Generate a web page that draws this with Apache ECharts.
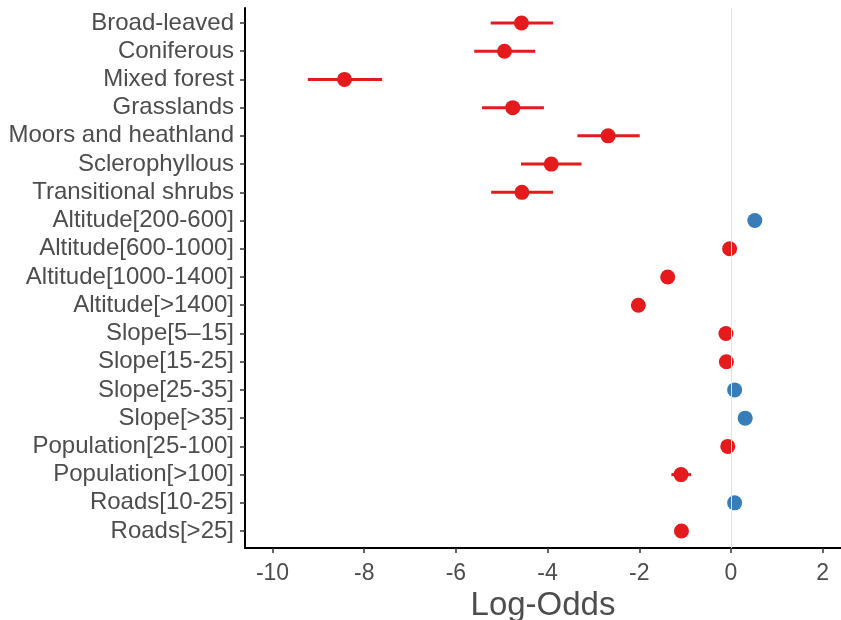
<!DOCTYPE html>
<html>
<head>
<meta charset="utf-8">
<script src="https://cdn.jsdelivr.net/npm/echarts@6/dist/echarts.min.js"></script>
<style>
html, body { margin: 0; padding: 0; background: #fff; }
#main { width: 841px; height: 620px; }
</style>
</head>
<body>
<div id="main"></div>
<script>
// model terms, top to bottom
var terms = [
    'Broad-leaved', 'Coniferous', 'Mixed forest', 'Grasslands',
    'Moors and heathland', 'Sclerophyllous', 'Transitional shrubs',
    'Altitude[200-600]', 'Altitude[600-1000]', 'Altitude[1000-1400]', 'Altitude[>1400]',
    'Slope[5\u201315]', 'Slope[15-25]', 'Slope[25-35]', 'Slope[>35]',
    'Population[25-100]', 'Population[>100]', 'Roads[10-25]', 'Roads[>25]'
];
var estimate = [-4.57, -4.94, -8.43, -4.76, -2.68, -3.92, -4.56,
    0.52, -0.03, -1.38, -2.02, -0.11, -0.10, 0.08, 0.31, -0.07, -1.09, 0.08, -1.08];
var lower = [-5.24, -5.60, -9.23, -5.43, -3.35, -4.58, -5.23,
    0.45, -0.10, -1.45, -2.12, -0.17, -0.16, 0.02, 0.25, -0.13, -1.30, 0.02, -1.15];
var upper = [-3.88, -4.27, -7.61, -4.08, -1.99, -3.26, -3.88,
    0.59, 0.04, -1.31, -1.92, -0.05, -0.04, 0.14, 0.37, -0.01, -0.87, 0.14, -1.01];
var xTicks = [-10, -8, -6, -4, -2, 0, 2];

var RED = '#E41A1C', BLUE = '#377EB8';
var textColor = '#4D4D4D';
var font = 'Liberation Sans, Arial, sans-serif';

var idx = terms.map(function (t, i) { return i; });
function colorOf(i) { return estimate[i] > 0 ? BLUE : RED; }

var barData = idx.map(function (i) {
    return { value: [i, lower[i], upper[i]], itemStyle: { color: colorOf(i) } };
});
var pointData = idx.map(function (i) {
    return { value: [estimate[i], i], itemStyle: { color: colorOf(i), opacity: 1 } };
});

var chart = echarts.init(document.getElementById('main'));

var option = {
    animation: false,
    backgroundColor: '#fff',
    grid: { left: 245, right: 0, top: 8, bottom: 72, containLabel: false, outerBoundsMode: 'none' },
    xAxis: {
        type: 'value',
        min: -10.6,
        max: 2.4,
        name: 'Log-Odds',
        nameLocation: 'middle',
        nameGap: 35,
        nameTextStyle: { color: textColor, fontSize: 33, fontFamily: font },
        axisLine: { onZero: false, lineStyle: { color: '#000', width: 2 } },
        axisTick: { show: true, length: 5, customValues: xTicks, lineStyle: { color: '#333', width: 1.5 } },
        axisLabel: { customValues: xTicks, color: textColor, fontSize: 23, fontFamily: font, margin: 14 },
        splitLine: { show: false }
    },
    yAxis: {
        type: 'value',
        inverse: true,
        min: -0.53,
        max: 18.6,
        axisLine: { onZero: false, lineStyle: { color: '#000', width: 2 } },
        axisTick: { show: true, length: 5, customValues: idx, lineStyle: { color: '#333', width: 1.5 } },
        axisLabel: {
            customValues: idx,
            color: textColor, fontSize: 24, fontFamily: font, margin: 11,
            formatter: function (v) { return terms[Math.round(v)]; }
        },
        splitLine: { show: false }
    },
    series: [{
        type: 'custom',
        data: barData,
        encode: { x: [1, 2], y: 0 },
        z: 2,
        renderItem: function (params, api) {
            var y = api.value(0);
            var a = api.coord([api.value(1), y]);
            var b = api.coord([api.value(2), y]);
            return {
                type: 'line',
                shape: { x1: a[0], y1: a[1], x2: b[0], y2: b[1] },
                style: { stroke: api.visual('color'), lineWidth: 3 }
            };
        },
        markLine: {
            silent: true,
            symbol: 'none',
            label: { show: false },
            lineStyle: { color: '#E3E3E3', width: 1, type: 'solid' },
            data: [{ xAxis: 0 }]
        }
    }, {
        type: 'scatter',
        data: pointData,
        symbolSize: 15,
        z: 3
    }]
};

chart.setOption(option);
</script>
</body>
</html>
